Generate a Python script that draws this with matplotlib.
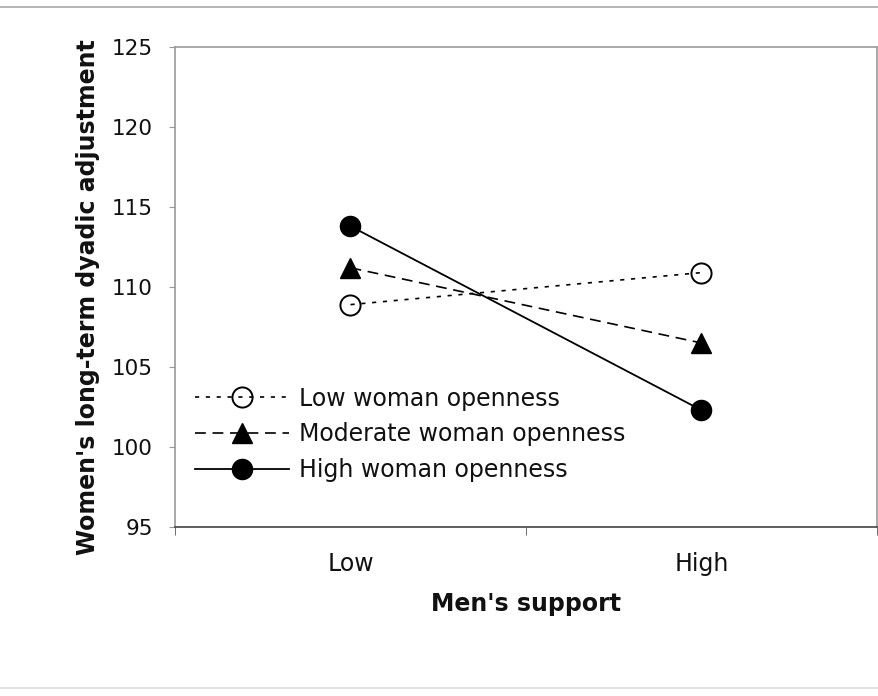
import matplotlib.pyplot as plt
from matplotlib.lines import Line2D

OUTPUT_PATH = "out.png"

# Men's support level (x categories)
support_levels = ["Low", "High"]

# Women's long-term dyadic adjustment by woman openness group
low_openness = [108.9, 110.9]
moderate_openness = [111.2, 106.5]
high_openness = [113.8, 102.3]

series_labels = ["Low woman openness", "Moderate woman openness", "High woman openness"]

y_ticks = [95, 100, 105, 110, 115, 120, 125]

TEXT = "#111111"
FRAME = "#9a9a9a"


def plot(output):
    plt.rcParams["font.family"] = "DejaVu Sans"
    fig = plt.figure(figsize=(8.79, 6.96), dpi=100)
    ax = fig.add_axes([175 / 879, 1 - 527 / 696, 702 / 879, 480 / 696])

    xs = [0.5, 1.5]
    ax.plot(xs, low_openness, color="black", lw=1.2, linestyle=(0, (2.5, 4)),
            marker="o", markersize=14.5, markerfacecolor="none",
            markeredgecolor="black", markeredgewidth=1.4, label=series_labels[0])
    ax.plot(xs, moderate_openness, color="black", lw=1.2, linestyle=(0, (6.5, 4)),
            marker="^", markersize=14.5, markerfacecolor="black",
            markeredgecolor="black", label=series_labels[1])
    ax.plot(xs, high_openness, color="black", lw=1.3, linestyle="-",
            marker="o", markersize=14.5, markerfacecolor="black",
            markeredgecolor="black", label=series_labels[2])

    ax.set_xlim(0, 2)
    ax.set_ylim(95, 125)
    ax.set_yticks(y_ticks)
    ax.set_yticklabels([str(v) for v in y_ticks], fontsize=15.5, color=TEXT)
    ax.tick_params(axis="y", direction="out", length=4, color=FRAME, pad=12)

    # category labels sit between the boundary ticks
    ax.set_xticks(xs)
    ax.set_xticklabels(support_levels, fontsize=17, color=TEXT)
    ax.tick_params(axis="x", which="major", length=0, pad=18)
    ax.set_xticks([0, 1, 2], minor=True)
    ax.tick_params(axis="x", which="minor", direction="out", length=6, color="#555555")

    for side in ("left", "top", "right"):
        ax.spines[side].set_color(FRAME)
        ax.spines[side].set_linewidth(1.2)
    ax.spines["bottom"].set_color("#444444")
    ax.spines["bottom"].set_linewidth(1.2)

    ax.set_xlabel("Men's support", fontsize=17, fontweight="bold", color=TEXT)
    ax.xaxis.set_label_coords(0.5, -0.135)
    ax.set_ylabel("Women's long-term dyadic adjustment", fontsize=17,
                  fontweight="bold", color=TEXT)
    ax.yaxis.set_label_coords(-0.107, 0.479)

    ax.legend(loc="center left", bbox_to_anchor=(0.028, 0.193), frameon=False,
              fontsize=17, handlelength=4.0, handletextpad=0.42, labelspacing=0.5,
              borderpad=0, borderaxespad=0, labelcolor=TEXT)

    # thin rules running across the page above and below the figure
    fig.add_artist(Line2D([0, 1], [1 - 7 / 696] * 2, transform=fig.transFigure,
                          color="#a8a8a8", lw=1.2))
    fig.add_artist(Line2D([0, 1], [1 - 688 / 696] * 2, transform=fig.transFigure,
                          color="#e2e2e2", lw=1.5))

    fig.savefig(output, dpi=100)


if __name__ == "__main__":
    plot(OUTPUT_PATH)
